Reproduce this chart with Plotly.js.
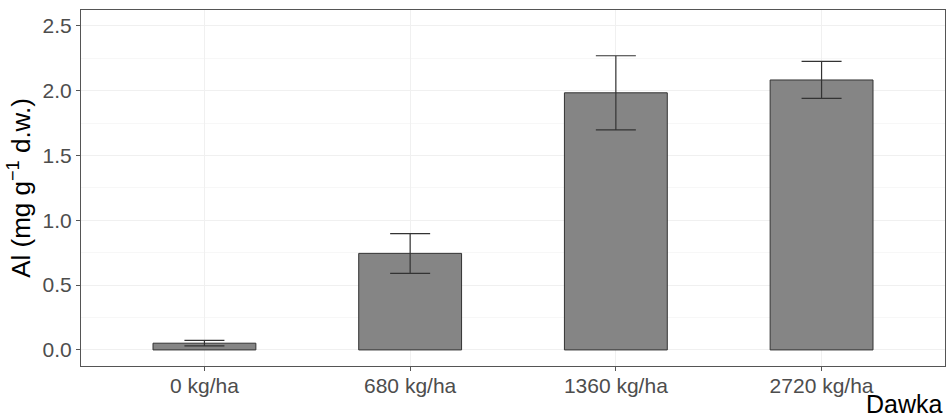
<!DOCTYPE html>
<html><head><meta charset="utf-8">
<script src="https://cdn.plot.ly/plotly-3.0.1.min.js"></script>
<style>html,body{margin:0;padding:0;background:#fff}#c{width:946px;height:415px}</style>
</head><body><div id="c"></div>
<script>
const categories = ["0 kg/ha", "680 kg/ha", "1360 kg/ha", "2720 kg/ha"];
const means = [0.052, 0.745, 1.984, 2.083];
const errUpper = [0.021, 0.153, 0.286, 0.143];
const errLower = [0.021, 0.155, 0.286, 0.142];
const yTicks = [0, 0.5, 1, 1.5, 2, 2.5];
const yTickLabels = ["0.0", "0.5", "1.0", "1.5", "2.0", "2.5"];

const trace = {
  type: "bar",
  x: [0, 1, 2, 3],
  y: means,
  width: 0.5,
  marker: {color: "#858585", line: {color: "#333333", width: 1}},
  error_y: {type: "data", symmetric: false, array: errUpper, arrayminus: errLower,
            color: "#333333", thickness: 1.2, width: 20},
  hoverinfo: "none"
};

const layout = {
  width: 946, height: 415,
  margin: {l: 81, r: 1, t: 10, b: 49},
  paper_bgcolor: "#ffffff", plot_bgcolor: "#ffffff",
  showlegend: false,
  font: {family: "Liberation Sans, Arial, sans-serif", color: "#4d4d4d"},
  xaxis: {
    range: [-0.6, 3.6], tickvals: [0, 1, 2, 3], ticktext: categories,
    showgrid: true, gridcolor: "#f0f0f0", gridwidth: 1,
    zeroline: false, showline: true, linecolor: "#555555", linewidth: 1, mirror: true,
    ticks: "outside", ticklen: 4, tickcolor: "#555555", ticklabelstandoff: -3,
    tickfont: {size: 21, color: "#4d4d4d"}
  },
  yaxis: {
    range: [-0.124, 2.623], tickvals: yTicks, ticktext: yTickLabels,
    showgrid: true, gridcolor: "#f0f0f0", gridwidth: 1,
    minor: {dtick: 0.25, tick0: 0.25, showgrid: true, gridcolor: "#f7f7f7", gridwidth: 1},
    zeroline: false, showline: true, linecolor: "#555555", linewidth: 1, mirror: true,
    ticks: "outside", ticklen: 4, tickcolor: "#555555",
    tickfont: {size: 21, color: "#4d4d4d"},
    title: {text: "Al (mg g<sup>\u22121</sup> d.w.)", font: {size: 26, color: "#000000"}, standoff: 4}
  },
  annotations: [{
    text: "Dawka", xref: "paper", yref: "paper", x: 1, y: -0.152, xanchor: "right", yanchor: "bottom",
    showarrow: false, font: {size: 25, color: "#000000"}
  }]
};

Plotly.newPlot("c", [trace], layout, {staticPlot: true, displayModeBar: false});
</script>
</body></html>
